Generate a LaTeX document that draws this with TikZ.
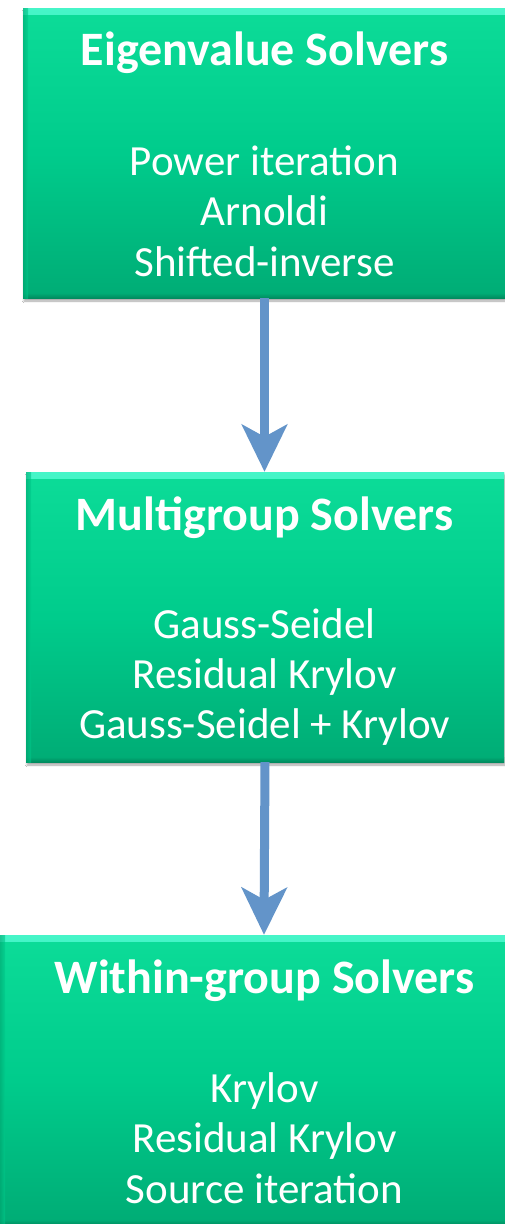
\documentclass[tikz,border=0pt]{standalone}
\usepackage{fontspec}
\setmainfont{Carlito}
\usetikzlibrary{arrows.meta,shadows.blur}
\definecolor{boxtop}{RGB}{12,220,152}
\definecolor{boxmid}{RGB}{0,204,140}
\definecolor{boxbot}{RGB}{0,172,117}
\definecolor{bevlight}{RGB}{70,245,200}
\definecolor{bevdark}{RGB}{0,140,95}
\definecolor{arrowblue}{RGB}{99,148,201}
\tikzset{
  solverbox/.style={rectangle, draw=none, inner sep=0pt,
    top color=boxtop, bottom color=boxbot, middle color=boxmid,
    blur shadow={shadow blur steps=6, shadow xshift=1pt, shadow yshift=-3pt, shadow opacity=35},
    path picture={
      \shade[top color=bevlight, bottom color=boxtop]
        (path picture bounding box.north west) rectangle ([yshift=-6pt]path picture bounding box.north east);
      \shade[top color=boxbot, bottom color=bevdark]
        ([yshift=5pt]path picture bounding box.south west) rectangle (path picture bounding box.south east);
      \shade[left color=bevdark!60!boxmid, right color=boxmid, opacity=0.6]
        (path picture bounding box.south west) rectangle ([xshift=5pt]path picture bounding box.north west);
    }},
  titletext/.style={text=white, inner sep=0pt, anchor=base, font=\fontsize{48}{54}\selectfont\bfseries},
  bodytext/.style={text=white, inner sep=0pt, anchor=base, font=\fontsize{43}{50}\selectfont},
  flowarrow/.style={draw=arrowblue, line width=9pt,
    -{Stealth[length=47pt, width=45pt, inset=12pt, fill=arrowblue]}}
}
\begin{document}
\begin{tikzpicture}[x=1pt,y=-1pt]
\useasboundingbox (0,0) rectangle (504,1224);
\fill[white] (0,0) rectangle (504,1224);

% boxes
\node[solverbox, minimum width=482pt, minimum height=290pt] (eig) at (264,153) {};
\node[solverbox, minimum width=478pt, minimum height=290pt] (mg) at (265,617) {};
\node[solverbox, minimum width=528pt, minimum height=290pt] (wg) at (264,1080) {};

% arrows
\draw[flowarrow] ([xshift=0.5pt]eig.south) -- ([xshift=-0.5pt]mg.north);
\draw[flowarrow] (mg.south) -- (wg.north);

% texts: box 1
\node[titletext] (eigT) at (264.5,65.5) {Eigenvalue Solvers};
\node[bodytext] (eig1) at (264.5,175) {Power iteration};
\node[bodytext] (eig2) at (264.5,225.5) {Arnoldi};
\node[bodytext] (eig3) at (264.5,276) {Shifted-inverse};

% texts: box 2
\node[titletext] (mgT) at (264.5,530) {Multigroup Solvers};
\node[bodytext] (mg1) at (264.5,638) {Gauss-Seidel};
\node[bodytext] (mg2) at (264.5,688) {Residual Krylov};
\node[bodytext] (mg3) at (264.5,738.5) {Gauss-Seidel + Krylov};

% texts: box 3
\node[titletext] (wgT) at (264.5,993) {Within-group Solvers};
\node[bodytext] (wg1) at (264.5,1102) {Krylov};
\node[bodytext] (wg2) at (264.5,1152) {Residual Krylov};
\node[bodytext] (wg3) at (264.5,1203) {Source iteration};
\end{tikzpicture}
\end{document}
